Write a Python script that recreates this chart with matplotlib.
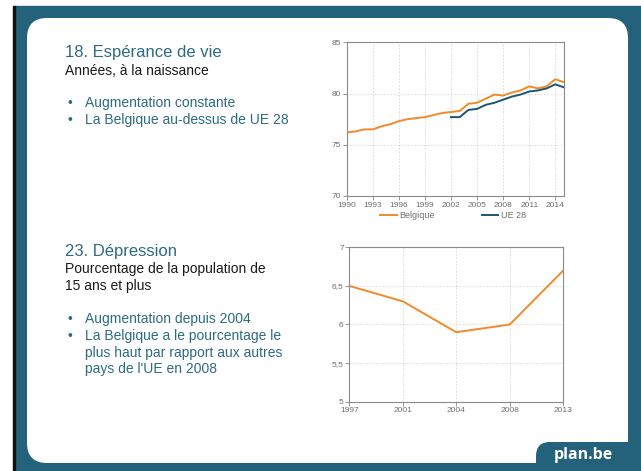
import matplotlib.pyplot as plt
from matplotlib.patches import FancyBboxPatch, Rectangle
from matplotlib.lines import Line2D

# life expectancy at birth
years = list(range(1990, 2016))
belgique = [76.2, 76.3, 76.5, 76.5, 76.8, 77.0, 77.3, 77.5, 77.6, 77.7,
            77.9, 78.1, 78.2, 78.3, 79.0, 79.1, 79.5, 79.9, 79.8, 80.1,
            80.3, 80.7, 80.5, 80.7, 81.4, 81.1]
years_ue = list(range(2002, 2016))
ue28 = [77.7, 77.7, 78.4, 78.5, 78.9, 79.1, 79.4, 79.7, 79.9, 80.2,
        80.3, 80.5, 80.9, 80.6]

# depression, % of population 15+
dep_years = ['1997', '2001', '2004', '2008', '2013']
dep_values = [6.5, 6.3, 5.9, 6.0, 6.7]

frame = '#24617b'
teal = '#2d6b82'
orange = '#f28a2a'
ue_col = '#1d5670'
grey = '#6f6f6f'

plt.rcParams['font.family'] = ['Liberation Sans', 'DejaVu Sans']

fig = plt.figure(figsize=(6.41, 4.71), dpi=100)
bg = fig.add_axes([0, 0, 1, 1])
bg.set_xlim(0, 641)
bg.set_ylim(471, 0)
bg.axis('off')

# slide background
bg.add_patch(Rectangle((14, 6), 640, 470, color=frame, zorder=0))
bg.add_patch(Rectangle((13, 6), 2, 470, color='#111111', zorder=1))
bg.add_patch(FancyBboxPatch((27, 18), 601, 445,
                            boxstyle='round,pad=0,rounding_size=20',
                            fc='white', ec='none', zorder=2))
bg.add_patch(FancyBboxPatch((536, 442), 120, 50,
                            boxstyle='round,pad=0,rounding_size=14',
                            fc=frame, ec='none', zorder=3))
bg.text(583, 459, 'plan.be', color='white', fontsize=11.5,
        fontweight='bold', family=['Open Sans', 'DejaVu Sans'],
        ha='center', va='baseline', zorder=4)

# left texts
def bullet(y, lines):
    bg.text(67, y, '\u2022', color=teal, fontsize=10, va='baseline', zorder=4)
    for i, s in enumerate(lines):
        bg.text(85, y + i * 16.5, s, color=teal, fontsize=10,
                va='baseline', zorder=4)

bg.text(65, 56.7, '18. Espérance de vie', color=teal, fontsize=12,
        va='baseline', zorder=4)
bg.text(65, 75, 'Années, à la naissance', color='#1a1a1a', fontsize=10,
        va='baseline', zorder=4)
bullet(107.3, ['Augmentation constante'])
bullet(124, ['La Belgique au-dessus de UE 28'])

bg.text(65, 256, '23. Dépression', color=teal, fontsize=12,
        va='baseline', zorder=4)
bg.text(65, 273.3, 'Pourcentage de la population de', color='#1a1a1a',
        fontsize=10, va='baseline', zorder=4)
bg.text(65, 289.8, '15 ans et plus', color='#1a1a1a', fontsize=10,
        va='baseline', zorder=4)
bullet(322.7, ['Augmentation depuis 2004'])
bullet(340, ['La Belgique a le pourcentage le',
             'plus haut par rapport aux autres',
             "pays de l'UE en 2008"])


def style(ax):
    for s in ax.spines.values():
        s.set_color('#8a8a8a')
        s.set_linewidth(0.8)
    ax.tick_params(colors='#8a8a8a', labelcolor=grey, labelsize=6,
                   length=3, width=0.6, pad=1)
    ax.grid(True, color='#d6d6d6', linestyle=(0, (2, 2)), linewidth=0.6)
    ax.set_axisbelow(True)


# chart 1
ax1 = fig.add_axes([346.7 / 641, 1 - 196 / 471, 217.3 / 641, 153.7 / 471])
ax1.plot(years, belgique, color=orange, lw=1.4, label='Belgique')
ax1.plot(years_ue, ue28, color=ue_col, lw=1.4, label='UE 28')
ax1.set_xlim(1990, 2015)
ax1.set_ylim(70, 85)
ax1.set_xticks(range(1990, 2015, 3))
ax1.set_yticks([70, 75, 80, 85])
style(ax1)
ax1.legend(loc='center', bbox_to_anchor=(0.49, -0.13), ncol=2,
           frameon=False, fontsize=6.5, handlelength=1.8,
           columnspacing=5.2, handletextpad=0.3, labelcolor=grey)

# chart 2
ax2 = fig.add_axes([349.3 / 641, 1 - 401.7 / 471, 214 / 641, 154.4 / 471])
ax2.plot(range(len(dep_years)), dep_values, color=orange, lw=1.4)
ax2.set_xlim(0, len(dep_years) - 1)
ax2.set_ylim(5, 7)
ax2.set_xticks(range(len(dep_years)))
ax2.set_xticklabels(dep_years)
ax2.set_yticks([5, 5.5, 6, 6.5, 7])
ax2.set_yticklabels(['5', '5,5', '6', '6,5', '7'])
style(ax2)

fig.savefig('out.png', dpi=100)
